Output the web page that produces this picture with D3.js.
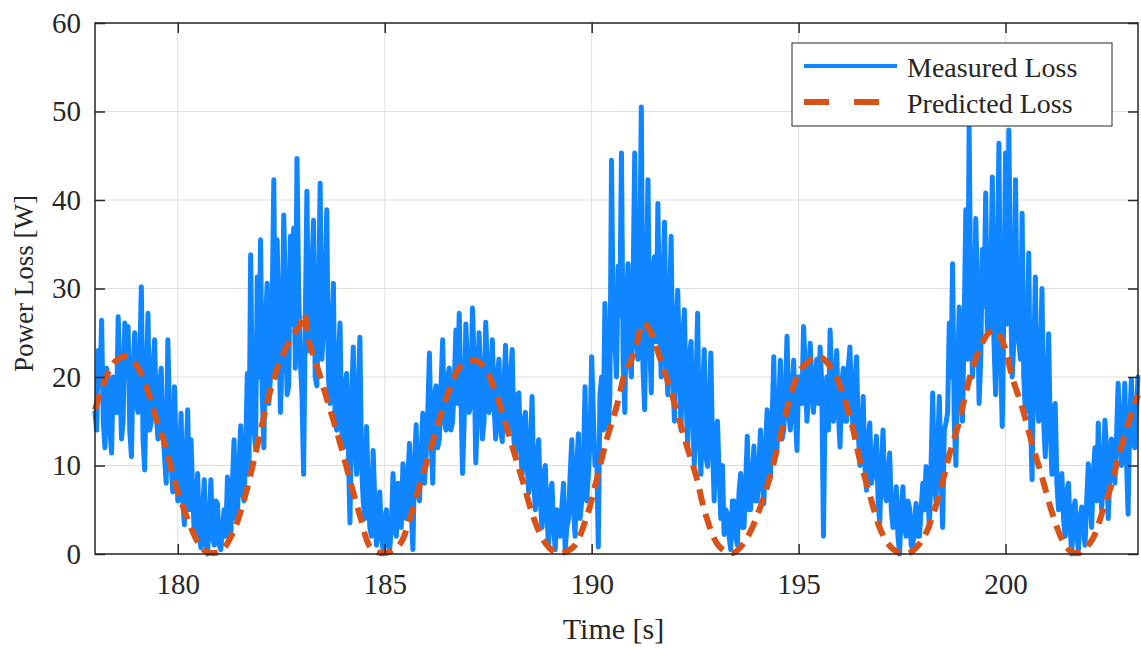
<!DOCTYPE html>
<html>
<head>
<meta charset="utf-8">
<script src="https://cdn.jsdelivr.net/npm/d3@7/dist/d3.min.js"></script>
<style>
  html, body { margin: 0; padding: 0; background: #fff; }
  svg { display: block; }
  text { font-family: "Liberation Serif", "DejaVu Serif", serif; fill: #262626; }
</style>
</head>
<body>
<svg id="chart" width="1141" height="648"></svg>
<script>
// ---------------- data ----------------
const seriesNames = ["Measured Loss", "Predicted Loss"];
const xTicks = [180, 185, 190, 195, 200];
const yTicks = [0, 10, 20, 30, 40, 50, 60];
const xLabel = "Time [s]";
const yLabel = "Power Loss [W]";

// Measured loss, samples every 0.08 s starting at 178.00 s
const measuredStart = 178.0;
const measuredStep = 0.08;
const measuredLoss = [
  16, 23, 26.4, 12, 20, 11.4, 18, 26.8, 13, 26.1,
  25.7, 11, 25, 16, 30.2, 9.5, 27.2, 15, 24.2, 13,
  21, 11, 24.2, 10, 18.9, 6, 15.9, 3.3, 16.3, 12.9,
  2, 9.1, 0.7, 8.4, 0, 8.4, 1, 5.7, 0.5, 5,
  8.7, 2, 12.9, 4, 14.5, 6, 20.4, 33.8, 14, 31.3,
  35.5, 12, 30.6, 20, 42.3, 35.5, 16, 38.3, 18, 35.9,
  36.8, 44.7, 22, 9, 41, 24, 37.7, 19, 41.9, 25,
  38.9, 17, 30.6, 14, 26.1, 12, 20.4, 3.5, 23.4, 9,
  24.5, 6, 14.4, 3, 11.7, 1, 7, 0.5, 5, 0.5,
  9.1, 2, 7, 10.2, 4, 12.5, 0.5, 14.6, 6, 15.9,
  11, 22.7, 8, 19, 13, 24.2, 14, 21, 15, 25.3,
  27.2, 9.1, 26, 16, 27.8, 10.3, 25, 13, 26.2, 16,
  24.2, 13, 22, 12.7, 23.6, 14, 23.1, 11, 18.2, 9,
  16, 6.9, 17.8, 5, 12.9, 3, 10, 1, 8, 0.5,
  3.8, 5.3, 0.5, 4, 12.9, 2, 13.6, 6, 18.9, 9,
  22.3, 10, 0.8, 20, 28.3, 14, 44.5, 24, 32.5, 45.3,
  16, 32.8, 20, 45.3, 22, 50.5, 16.3, 42.3, 18.2, 33.6,
  39.6, 20, 37.5, 18, 35.9, 15, 29.8, 14, 27.6, 12,
  24, 10, 27.2, 9, 23.1, 9.9, 22.7, 6, 15, 4,
  2.2, 4.5, 0.5, 6, 1, 9.1, 3, 13.3, 5, 12.2,
  6, 14, 5.7, 16.3, 9, 22.3, 12, 21.9, 14, 24.6,
  14, 21.9, 11.7, 20, 25.7, 15, 23.8, 16, 22, 23.4,
  2.0, 20, 25.3, 15, 23, 12.1, 21, 15, 23.4, 14,
  22.3, 10, 17.8, 7.2, 14.8, 9, 13.3, 3.5, 14, 6,
  11.4, 3, 7.6, 0, 7.6, 2, 5.2, 0.5, 5.7, 2,
  8, 9.9, 3, 18.2, 6, 17.8, 3, 14.8, 26.1, 32.8,
  10, 27.9, 15, 38.9, 48.3, 20, 37.9, 17, 34.4, 40.8,
  25, 42.6, 18, 46.4, 14.4, 45.3, 47.9, 20, 42.3, 24,
  38.5, 16, 34, 8.4, 31.3, 15, 30, 11, 24.9, 9,
  17, 5, 9.1, 2, 8, 0, 6, 0.5, 5.3, 1,
  10.2, 3, 12, 14.8, 5, 15.1, 4, 13, 8, 19.3,
  10, 19.3, 4.5, 19.7, 12, 20.0
];
const measuredLossMid = [
  14, 19, 15, 21, 14, 20, 16, 21, 15, 20,
  14, 21, 17, 22, 13, 20, 14, 21, 16, 19,
  14, 8, 16, 7, 12, 9, 6, 11, 5, 7,
  4, 2, 5, 1, 4, 2, 6, 1, 3, 2,
  5, 8, 4, 10, 7, 12, 9, 18, 12, 20,
  18, 26, 17, 28, 20, 27, 22, 30, 19, 26,
  21, 30, 18, 26, 23, 32, 20, 28, 22, 30,
  20, 24, 15, 22, 14, 19, 12, 17, 13, 18,
  10, 4, 8, 2, 6, 3, 2, 4, 1, 3,
  4, 8, 3, 6, 9, 5, 10, 7, 11, 8,
  16, 13, 18, 12, 19, 15, 20, 14, 19, 17,
  18, 15, 21, 17, 22, 16, 20, 15, 21, 18,
  17, 20, 14, 19, 16, 20, 13, 18, 12, 15,
  10, 12, 8, 11, 6, 9, 4, 7, 3, 5,
  2, 8, 3, 9, 5, 10, 4, 10, 6, 13,
  16, 12, 18, 14, 22, 18, 26, 20, 27, 22,
  28, 22, 30, 24, 33, 21, 30, 25, 32, 24,
  26, 30, 22, 28, 20, 26, 21, 24, 18, 22,
  16, 19, 13, 18, 11, 17, 12, 14, 9, 10,
  5, 2, 6, 2, 7, 3, 8, 5, 9, 6,
  10, 8, 12, 9, 15, 11, 17, 13, 18, 16,
  18, 16, 20, 17, 21, 18, 19, 20, 17, 19,
  17, 14, 20, 18, 16, 19, 15, 21, 17, 19,
  14, 12, 10, 13, 8, 11, 6, 10, 7, 9,
  5, 4, 2, 5, 3, 6, 1, 4, 2, 5,
  5, 7, 10, 8, 12, 9, 14, 16, 20, 15,
  20, 18, 26, 22, 28, 24, 30, 22, 28, 25,
  30, 24, 32, 22, 28, 26, 30, 24, 28, 22,
  20, 24, 16, 22, 18, 21, 15, 19, 14, 16,
  8, 6, 4, 7, 3, 5, 2, 4, 3, 6,
  7, 9, 6, 10, 8, 12, 9, 11, 13, 14,
  14, 11, 15, 13, 16
];

// Predicted loss: time / value pairs
const predictedTime = [
  178.00, 178.15, 178.31, 178.50, 178.71, 178.90, 179.07, 179.27, 179.51, 179.71,
  179.87, 180.07, 180.31, 180.50, 180.63, 180.88, 181.10, 181.36, 181.60, 181.84,
  182.08, 182.24, 182.48, 182.81, 182.95, 183.05, 183.20, 183.29, 183.61, 183.90,
  184.18, 184.41, 184.65, 184.90, 185.15, 185.38, 185.62, 185.86, 186.10, 186.34,
  186.59, 186.83, 187.15, 187.39, 187.63, 187.87, 188.11, 188.35, 188.59, 188.83,
  189.05, 189.24, 189.56, 189.88, 190.12, 190.36, 190.60, 190.84, 190.92, 191.10,
  191.24, 191.40, 191.64, 191.88, 192.12, 192.28, 192.53, 192.77, 193.09, 193.41,
  193.60, 193.81, 194.05, 194.29, 194.53, 194.69, 194.93, 195.17, 195.50, 195.82,
  196.06, 196.30, 196.46, 196.70, 196.94, 197.10, 197.27, 197.45, 197.67, 197.99,
  198.23, 198.47, 198.63, 198.87, 199.03, 199.19, 199.43, 199.60, 199.76, 199.88,
  200.00, 200.16, 200.40, 200.64, 200.88, 201.13, 201.37, 201.55, 201.77, 202.09,
  202.33, 202.57, 202.73, 202.97, 203.20
];
const predictedLoss = [
  16.3, 18.5, 20.4, 21.8, 22.3, 21.9, 20.8, 18.5, 14.8, 12.1,
  9.1, 6.1, 3.1, 1.2, 0.45, 0.1, 0.6, 2.7, 6.1, 10.6,
  15.5, 18.5, 21.9, 24.9, 25.8, 27.2, 23.4, 22.3, 17.4, 12.9,
  8.0, 4.2, 0.8, 0.1, 0.3, 1.2, 4.2, 8.0, 11.7, 15.5,
  18.9, 21.2, 21.9, 21.2, 18.9, 15.5, 11.7, 8.0, 4.2, 1.6,
  0.4, 0.1, 0.8, 4.2, 8.4, 12.9, 16.6, 21.0, 21.5, 24.0,
  26.1, 25.3, 22.3, 18.9, 15.1, 12.5, 8.7, 4.2, 0.8, 0.1,
  0.8, 2.3, 5.0, 8.4, 12.8, 15.8, 19.7, 21.5, 22.3, 20.8,
  18.2, 14.4, 11.0, 7.0, 3.2, 1.6, 0.6, 0.1, 0.1, 1.6,
  4.2, 8.0, 11.0, 14.8, 18.0, 20.8, 23.8, 25.0, 25.3, 24.5,
  23.1, 20.0, 16.6, 12.5, 8.7, 4.6, 1.6, 0.4, 0.1, 1.6,
  4.6, 8.0, 11.0, 14.8, 18.0
];

const colors = ["#0f86ff", "#d95319"];

// ---------------- layout ----------------
const svg = d3.select("#chart");
const L = 95, R = 1138, T = 23, B = 554;
const x = d3.scaleLinear().domain([178, 203.2]).range([L, R]);
const y = d3.scaleLinear().domain([0, 60]).range([B, T]);
const axisColor = "#262626";
const tickFont = 29;

// grid
const grid = svg.append("g");
grid.selectAll("line.gx").data(xTicks).join("line")
  .attr("x1", d => x(d)).attr("x2", d => x(d)).attr("y1", T).attr("y2", B)
  .attr("stroke", "#dfdfdf").attr("stroke-width", 1);
grid.selectAll("line.gy").data(yTicks).join("line")
  .attr("x1", L).attr("x2", R).attr("y1", d => y(d)).attr("y2", d => y(d))
  .attr("stroke", "#dfdfdf").attr("stroke-width", 1);

// data lines: interleave the on-step and in-between samples
const measured = [];
measuredLoss.forEach((v, i) => {
  const t = measuredStart + i * measuredStep;
  measured.push({t, v});
  if (i < measuredLossMid.length) measured.push({t: t + measuredStep / 2, v: measuredLossMid[i]});
});
const predicted = predictedTime.map((t, i) => ({t, v: predictedLoss[i]}));

const lineGen = d3.line().x(d => x(d.t)).y(d => y(d.v));
const lineSmooth = d3.line().x(d => x(d.t)).y(d => y(d.v)).curve(d3.curveCatmullRom.alpha(0.5));

svg.append("path").datum(measured)
  .attr("d", lineGen)
  .attr("fill", "none").attr("stroke", colors[0]).attr("stroke-width", 5)
  .attr("stroke-linejoin", "round").attr("stroke-linecap", "round");

svg.append("path").datum(predicted)
  .attr("d", lineSmooth)
  .attr("fill", "none").attr("stroke", colors[1]).attr("stroke-width", 6)
  .attr("stroke-dasharray", "16,9");

// axes
const fmt = d3.format("d");
const gx = svg.append("g").attr("transform", `translate(0,${B})`)
  .call(d3.axisBottom(x).tickValues(xTicks).tickFormat(fmt).tickSizeInner(-10).tickSizeOuter(0).tickPadding(19));
const gxt = svg.append("g").attr("transform", `translate(0,${T})`)
  .call(d3.axisTop(x).tickValues(xTicks).tickFormat("").tickSizeInner(-10).tickSizeOuter(0));
const gy = svg.append("g").attr("transform", `translate(${L},0)`)
  .call(d3.axisLeft(y).tickValues(yTicks).tickFormat(fmt).tickSizeInner(-10).tickSizeOuter(0).tickPadding(14));
const gyr = svg.append("g").attr("transform", `translate(${R},0)`)
  .call(d3.axisRight(y).tickValues(yTicks).tickFormat("").tickSizeInner(-10).tickSizeOuter(0));

[gx, gxt, gy, gyr].forEach(g => {
  g.select(".domain").remove();
  g.selectAll(".tick line").attr("stroke", axisColor).attr("stroke-width", 1.5);
  g.selectAll(".tick text").attr("fill", axisColor)
    .style("font-family", '"Liberation Serif", serif').style("font-size", tickFont + "px");
});

svg.append("rect").attr("x", L).attr("y", T).attr("width", R - L).attr("height", B - T)
  .attr("fill", "none").attr("stroke", axisColor).attr("stroke-width", 1.5);

// axis labels
svg.append("text").attr("x", (L + R) / 2 - 3).attr("y", 639)
  .attr("text-anchor", "middle").style("font-size", "30px").text(xLabel);
svg.append("text").attr("transform", `translate(33,${(T + B) / 2 - 5}) rotate(-90)`)
  .attr("text-anchor", "middle").style("font-size", "27px").text(yLabel);

// legend
const lg = svg.append("g");
lg.append("rect").attr("x", 792).attr("y", 43).attr("width", 320).attr("height", 83)
  .attr("fill", "#fff").attr("stroke", axisColor).attr("stroke-width", 1);
const legY = [66, 102];
lg.selectAll("line.leg").data(seriesNames).join("line")
  .attr("x1", 804).attr("x2", 897).attr("y1", (d, i) => legY[i]).attr("y2", (d, i) => legY[i])
  .attr("stroke", (d, i) => colors[i])
  .attr("stroke-width", (d, i) => i === 0 ? 4 : 6)
  .attr("stroke-dasharray", (d, i) => i === 0 ? null : "25,25");
lg.selectAll("text.leg").data(seriesNames).join("text")
  .attr("x", 907).attr("y", (d, i) => legY[i] + 11)
  .style("font-size", "28px").attr("fill", "#000").text(d => d);
</script>
</body>
</html>
